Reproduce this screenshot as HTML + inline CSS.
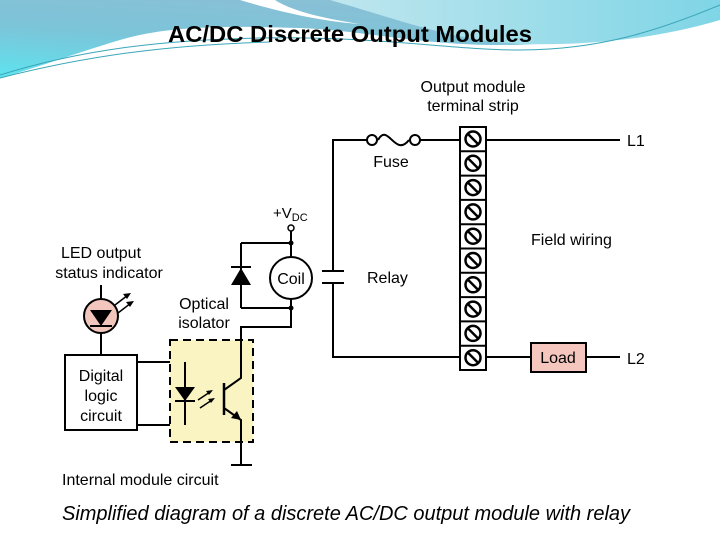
<!DOCTYPE html>
<html><head><style>
body{margin:0;width:720px;height:540px;background:#fff;overflow:hidden;font-family:"Liberation Sans",sans-serif}
</style></head><body>
<svg width="720" height="540" viewBox="0 0 720 540" xmlns="http://www.w3.org/2000/svg" font-family="Liberation Sans, sans-serif">
<defs>
<linearGradient id="g1" x1="0" y1="1" x2="0.6" y2="0"><stop offset="0" stop-color="#5ee3ef"/><stop offset="0.5" stop-color="#7cc4d8"/><stop offset="1" stop-color="#8bbfd6"/></linearGradient>
<linearGradient id="g2" x1="0" y1="0" x2="1" y2="0"><stop offset="0" stop-color="#bfe6ee"/><stop offset="1" stop-color="#7fd5e6"/></linearGradient>
</defs>
<path d="M0 0 H720 V10 C650 30 580 45 500 45 C420 45 360 30 300 28 C230 26 170 25 120 40 C70 55 30 70 0 78 Z" fill="url(#g1)"/>
<path d="M240 0 C290 15 330 22 360 24 C320 18 290 10 275 0 Z" fill="#fff"/>
<path d="M330 0 H720 V20 C660 38 590 46 520 44 C450 40 400 20 330 0 Z" fill="url(#g2)"/>
<path d="M0 75 C80 50 160 40 260 38 C380 36 450 50 520 50 C600 50 660 30 720 5" fill="none" stroke="#3aa6b8" stroke-width="1"/>
<path d="M0 78 C90 55 170 45 270 42" fill="none" stroke="#3aa6b8" stroke-width="1"/>
<text x="350" y="42" font-size="23" font-weight="bold" text-anchor="middle" textLength="364" lengthAdjust="spacingAndGlyphs">AC/DC Discrete Output Modules</text>

<g stroke="#000" stroke-width="2" fill="none">
<path d="M372 140 H333 V271 M333 283 V357 H460"/>
<path d="M322 271 H344 M322 283 H344"/>
<path d="M415 140 H460"/>
<path d="M378 140 C388 122 395 158 409 140"/>
<path d="M486 140 H620"/>
<path d="M486 357 H531 M586 357 H620"/>
<path d="M291 231 V257 M291 299 V327 H241 V385"/>
<path d="M241 243 H291 M241 308 H291 M241 243 V308"/>
<path d="M231 267 H251"/>
<path d="M137 362 H185 V425 H137"/>
<path d="M101 285 V355"/>
</g>
<rect x="170" y="340" width="83" height="102" fill="#f9f4c2" stroke="#000" stroke-width="2" stroke-dasharray="8,5"/>
<g stroke="#000" stroke-width="2" fill="none">
<path d="M185 362 V425 M175 401 H195"/>
<path d="M224 383 V415" stroke-width="2.5"/>
<path d="M224 390 L241 378 V327 M224 408 L241 420 V465 M231 465 H252"/>
</g>
<polygon points="241,420 231,418 237,411" fill="#000"/>
<polygon points="175,387 195,387 185,401" fill="#000"/>
<g stroke="#000" stroke-width="1.5"><path d="M198 400 L210 392 M200 408 L212 400"/></g>
<polygon points="213,390 206,391 209,395" fill="#000"/><polygon points="215,398 208,399 211,403" fill="#000"/>
<polygon points="231,285 251,285 241,268" fill="#000"/>
<circle cx="291" cy="278" r="21" fill="#fff" stroke="#000" stroke-width="2"/>
<text x="291" y="284" font-size="16" text-anchor="middle">Coil</text>
<circle cx="291" cy="228" r="3" fill="#fff" stroke="#000" stroke-width="1.5"/>
<circle cx="291" cy="243" r="2.5" fill="#000"/><circle cx="291" cy="308" r="2.5" fill="#000"/>
<circle cx="101" cy="316" r="17" fill="#f3c6bd" stroke="#000" stroke-width="2"/>
<polygon points="90,310 112,310 101,326" fill="#000"/>
<path d="M90 326 H112" stroke="#000" stroke-width="2"/>
<g stroke="#000" stroke-width="1.5"><path d="M115 305 L128 295 M118 313 L131 303"/></g>
<polygon points="131,293 123,294 127,299" fill="#000"/><polygon points="134,301 126,302 130,307" fill="#000"/>
<rect x="65" y="355" width="72" height="75" fill="#fff" stroke="#000" stroke-width="2"/>
<circle cx="372" cy="140" r="5" fill="#fff" stroke="#000" stroke-width="2"/>
<circle cx="415" cy="140" r="5" fill="#fff" stroke="#000" stroke-width="2"/>
<rect x="531" y="343" width="55" height="29" fill="#f4c6be" stroke="#000" stroke-width="2"/>
<text x="558" y="363" font-size="16" text-anchor="middle">Load</text>
<rect x="460" y="127" width="26" height="243" fill="#fff" stroke="#000" stroke-width="2"/>
<g stroke="#000" stroke-width="2" fill="none">
<path d="M460 151.3H486M460 175.6H486M460 199.9H486M460 224.2H486M460 248.5H486M460 272.8H486M460 297.1H486M460 321.4H486M460 345.7H486"/>
<g id="sc"><circle cx="473" cy="139" r="7.5" stroke-width="2.5"/><path d="M467.5 133.5 L478.5 144.5" stroke-width="2.5"/></g>
<use href="#sc" y="24.3"/><use href="#sc" y="48.6"/><use href="#sc" y="72.9"/><use href="#sc" y="97.2"/><use href="#sc" y="121.5"/><use href="#sc" y="145.8"/><use href="#sc" y="170.1"/><use href="#sc" y="194.4"/><use href="#sc" y="218.7"/>
</g>
<g font-size="16" fill="#000">
<text x="473" y="92" text-anchor="middle">Output module</text>
<text x="473" y="111" text-anchor="middle">terminal strip</text>
<text x="391" y="167" text-anchor="middle">Fuse</text>
<text x="367" y="283">Relay</text>
<text x="531" y="245">Field wiring</text>
<text x="627" y="146">L1</text>
<text x="627" y="364">L2</text>
<text x="273" y="218" font-size="15">+V<tspan font-size="11" dy="3">DC</tspan></text>
<text x="101" y="258" text-anchor="middle">LED output</text>
<text x="109" y="278" text-anchor="middle">status indicator</text>
<text x="204" y="309" text-anchor="middle">Optical</text>
<text x="204" y="328" text-anchor="middle">isolator</text>
<text x="101" y="381" text-anchor="middle">Digital</text>
<text x="101" y="401" text-anchor="middle">logic</text>
<text x="101" y="421" text-anchor="middle">circuit</text>
<text x="62" y="485">Internal module circuit</text>
</g>
<text x="62" y="520" font-size="20" font-style="italic" textLength="568" lengthAdjust="spacingAndGlyphs">Simplified diagram of a discrete AC/DC output module with relay</text>
</svg>
</body></html>
